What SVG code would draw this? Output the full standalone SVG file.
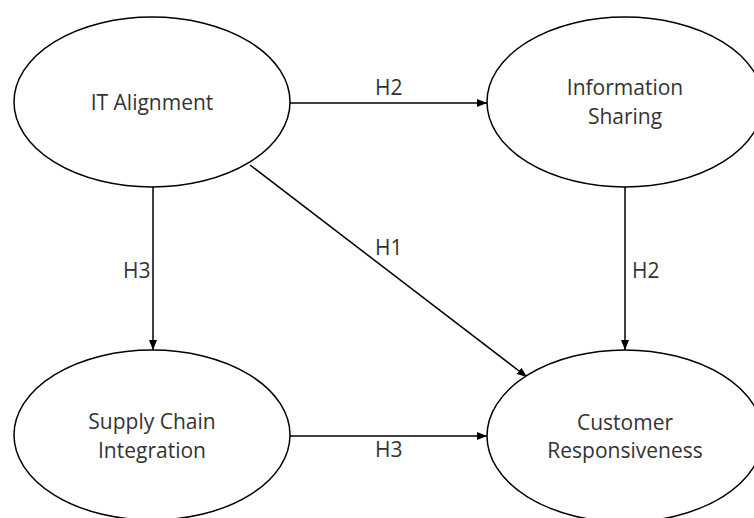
<svg xmlns="http://www.w3.org/2000/svg" width="754" height="518" viewBox="0 0 754 518">
<defs>
<marker id="arr" markerUnits="userSpaceOnUse" markerWidth="11" markerHeight="9" refX="10" refY="4.5" orient="auto">
<path d="M0,0.5 L10,4.5 L0,8.5 z" fill="#000"/>
</marker>
<style>
.node ellipse{fill:#fff;stroke:#000;stroke-width:1.5}
.node text,.lbl{font-family:"Open Sans","Liberation Sans",sans-serif;font-size:21px;fill:#333}
.node text{text-anchor:middle}
.edge{stroke:#000;stroke-width:1.5;fill:none;marker-end:url(#arr)}
</style>
</defs>
<rect width="754" height="518" fill="#fff"/>
<g id="connectors">
<line class="edge" x1="290" y1="103" x2="487" y2="103"/>
<line class="edge" x1="153" y1="187" x2="153" y2="350"/>
<line class="edge" x1="625" y1="187" x2="625" y2="350"/>
<line class="edge" x1="290" y1="436" x2="487" y2="436"/>
<line class="edge" x1="250" y1="165" x2="527" y2="377"/>
<text class="lbl" x="375" y="95">H2</text>
<text class="lbl" x="123" y="278">H3</text>
<text class="lbl" x="375" y="255">H1</text>
<text class="lbl" x="632" y="278">H2</text>
<text class="lbl" x="375" y="457">H3</text>
</g>
<g id="it-alignment" class="node">
<ellipse cx="152" cy="102" rx="138" ry="85"/>
<text x="152" y="110">IT Alignment</text>
</g>
<g id="information-sharing" class="node">
<ellipse cx="625" cy="102" rx="138" ry="85"/>
<text x="625" y="95">Information</text>
<text x="625" y="124">Sharing</text>
</g>
<g id="supply-chain-integration" class="node">
<ellipse cx="152" cy="435" rx="138" ry="85"/>
<text x="152" y="429">Supply Chain</text>
<text x="152" y="458">Integration</text>
</g>
<g id="customer-responsiveness" class="node">
<ellipse cx="625" cy="436" rx="138" ry="86"/>
<text x="625" y="430">Customer</text>
<text x="625" y="458">Responsiveness</text>
</g>
</svg>
